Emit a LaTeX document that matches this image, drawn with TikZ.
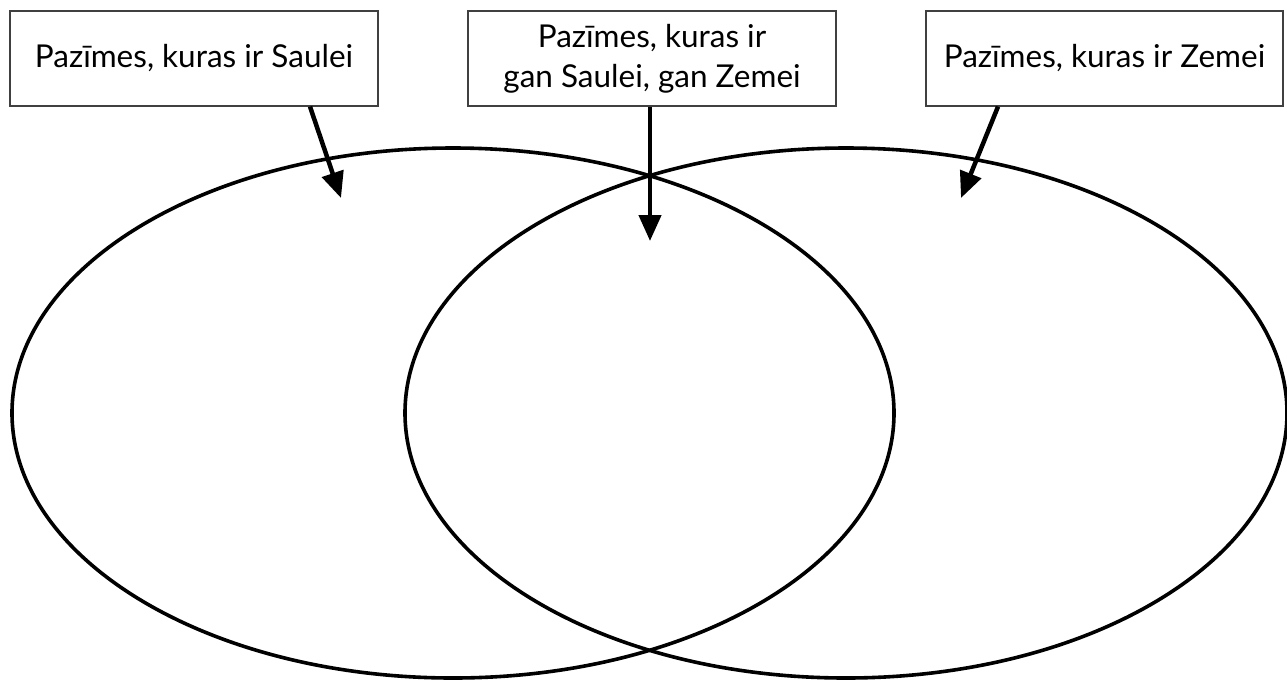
\documentclass[tikz,border=0pt]{standalone}
\usepackage{fontspec}
\setmainfont{Lato}
\usetikzlibrary{arrows.meta,shapes.geometric}
\begin{document}
\begin{tikzpicture}[x=1pt,y=-1pt,
  labelbox/.style={draw=black!75,line width=1.2pt,fill=white,inner sep=0pt,
    minimum height=95pt,align=center,font=\fontsize{31.5}{40}\selectfont},
  venn/.style={draw=black,line width=3.6pt,shape=ellipse,inner sep=0pt,
    minimum width=882pt,minimum height=530pt},
  pointer/.style={line width=4.5pt,-{Triangle[length=26pt,width=22pt]}}]
\useasboundingbox (0,0) rectangle (1287,681);
\node[venn] (sun) at (453,413) {};
\node[venn] (earth) at (846,413) {};
\node[labelbox,minimum width=368pt] (lbox) at (194,58.5) {Pazīmes, kuras ir Saulei};
\node[labelbox,minimum width=368pt] (mbox) at (652,58.5) {Pazīmes, kuras ir\\gan Saulei, gan Zemei};
\node[labelbox,minimum width=357pt] (rbox) at (1104.5,58.5) {Pazīmes, kuras ir Zemei};
\coordinate (ltip) at (341,198);
\coordinate (mtip) at (650,241);
\coordinate (rtip) at (961,198);
\draw[pointer] ([xshift=116pt]lbox.south) -- (ltip);
\draw[pointer] ([xshift=-2pt]mbox.south) -- (mtip);
\draw[pointer] ([xshift=-106.5pt]rbox.south) -- (rtip);
\end{tikzpicture}
\end{document}
